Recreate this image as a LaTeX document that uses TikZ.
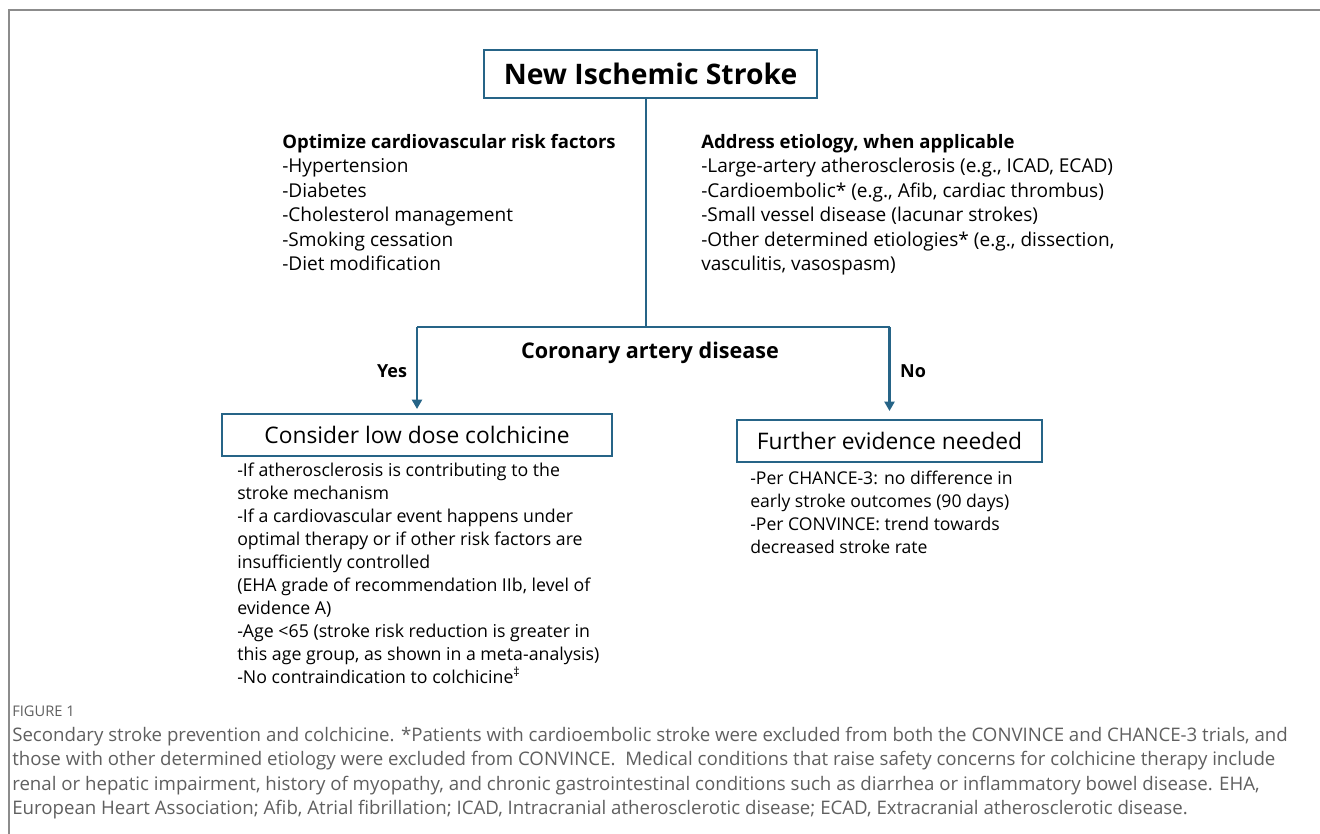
\documentclass[tikz,border=0pt]{standalone}
\usepackage{fontspec}
\setmainfont{Open Sans}
\newfontfamily\capfont{Open Sans}
\usepackage{xcolor}
\usetikzlibrary{positioning}
\usetikzlibrary{arrows.meta}

\definecolor{flowblue}{RGB}{38,100,135}
\definecolor{capgray}{RGB}{95,95,95}
\definecolor{framegray}{RGB}{140,140,140}

\begin{document}
\begin{tikzpicture}[x=0.75pt,y=-0.75pt,
    flowbox/.style={draw=flowblue, line width=1.5pt, fill=white, inner sep=0pt},
    link/.style={draw=flowblue, line width=1.6pt},
    arrowlink/.style={link, -{Triangle[width=7.5pt,length=7pt]}},
    listtext/.style={anchor=north west, align=left, inner sep=0pt}]
    \useasboundingbox (0,0) rectangle (1320,834);
    % Frame
    \draw[framegray, line width=1.3pt] (1320,10) -- (9,10) -- (9,834);

    % Top box
    \node[flowbox, minimum width=250pt, minimum height=36pt,
          font=\bfseries\fontsize{21.2}{24}\selectfont] (stroke) at (650.5,74) {New Ischemic Stroke};

    % Risk factors and etiology
    \node[listtext, font=\fontsize{14.3}{18.35}\selectfont] (riskfactors) at (282,134) {%
        {\bfseries\fontsize{13.9}{18.35}\selectfont Optimize cardiovascular risk factors}\\
        -Hypertension\\
        -Diabetes\\
        -Cholesterol management\\
        -Smoking cessation\\
        -Diet modification};
    \node[listtext, font=\fontsize{14.3}{18.35}\selectfont] (etiology) at (701,134) {%
        {\bfseries\fontsize{13.9}{18.35}\selectfont Address etiology, when applicable}\\
        -Large-artery atherosclerosis (e.g., ICAD, ECAD)\\
        -Cardioembolic* (e.g., Afib, cardiac thrombus)\\
        -Small vessel disease (lacunar strokes)\\
        -Other determined etiologies* (e.g., dissection,\\
        vasculitis, vasospasm)};

    % Outcome boxes
    \node[flowbox, minimum width=293pt, minimum height=31.5pt,
          font=\fontsize{17.1}{19}\selectfont] (colchicine) at (417,435) {Consider low dose colchicine};
    \node[flowbox, minimum width=229pt, minimum height=31.5pt,
          font=\fontsize{17.1}{19}\selectfont] (evidence) at (889.5,441) {Further evidence needed};

    % Branching
    \coordinate (split) at (646,327);
    \coordinate (yes) at (colchicine.north |- split);
    \coordinate (no) at (evidence.north |- split);
    \draw[link] (stroke.south -| split) -- (split);
    \draw[link] (yes) -- (no);
    \draw[arrowlink, shorten >=3pt] (yes) -- (colchicine.north);
    \draw[arrowlink, shorten >=6pt] (no) -- (evidence.north);
    \node[font=\bfseries\fontsize{16.2}{19}\selectfont] (cad) at (650,353) {Coronary artery disease};
    \node[font=\bfseries\fontsize{13.5}{16}\selectfont] (yeslabel) at (392,371) {Yes};
    \node[font=\bfseries\fontsize{13.5}{16}\selectfont] (nolabel) at (913,371) {No};

    % Details under the boxes
    \node[listtext, font=\fontsize{13.3}{17.2}\selectfont] (colnotes) at (237,463) {%
        -If atherosclerosis is contributing to the\\
        stroke mechanism\\
        -If a cardiovascular event happens under\\
        optimal therapy or if other risk factors are\\
        insufficiently controlled\\
        (EHA grade of recommendation IIb, level of\\
        evidence A)\\
        -Age <65 (stroke risk reduction is greater in\\
        this age group, as shown in a meta-analysis)\\
        -No contraindication to colchicine\textsuperscript{‡}};
    \node[listtext, font=\fontsize{13.2}{17.2}\selectfont] (evnotes) at (750,471) {%
        -Per CHANCE-3: no difference in\\
        early stroke outcomes (90 days)\\
        -Per CONVINCE: trend towards\\
        decreased stroke rate};

    % Caption
    \node[anchor=west, inner sep=0pt, text=capgray, font=\capfont\fontsize{11}{12}\selectfont] (figlabel) at (12,711) {FIGURE 1};
    \node[listtext, text=capgray, font=\capfont\fontsize{14}{18.4}\selectfont] (caption) at (12,726.5) {%
        Secondary stroke prevention and colchicine. *Patients with cardioembolic stroke were excluded from both the CONVINCE and CHANCE-3 trials, and\\
        those with other determined etiology were excluded from CONVINCE.\ \ Medical conditions that raise safety concerns for colchicine therapy include\\
        renal or hepatic impairment, history of myopathy, and chronic gastrointestinal conditions such as diarrhea or inflammatory bowel disease. EHA,\\
        European Heart Association; Afib, Atrial fibrillation; ICAD, Intracranial atherosclerotic disease; ECAD, Extracranial atherosclerotic disease.};
\end{tikzpicture}
\end{document}
